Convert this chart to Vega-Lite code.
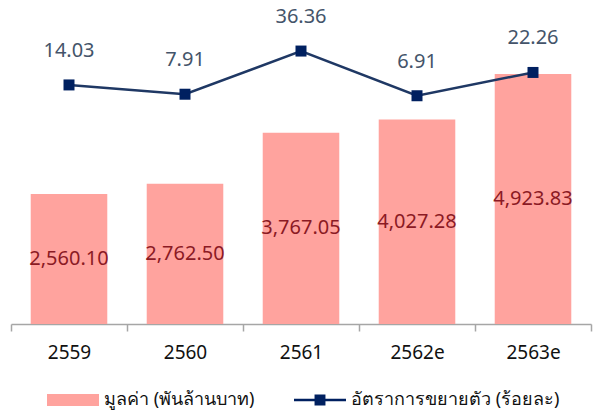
{
  "$schema": "https://vega.github.io/schema/vega-lite/v6.json",
  "width": 580,
  "height": 324,
  "autosize": {"type": "none"},
  "padding": {"left": 11, "top": 0, "right": 9, "bottom": 88},
  "config": {
    "view": {"stroke": null},
    "font": "Noto Sans",
    "text": {"font": "Noto Sans"}
  },
  "data": {
    "values": [
      {"year": "2559", "value": 2560.10, "growth": 14.03, "vlabel": "2,560.10", "glabel": "14.03"},
      {"year": "2560", "value": 2762.50, "growth": 7.91, "vlabel": "2,762.50", "glabel": "7.91"},
      {"year": "2561", "value": 3767.05, "growth": 36.36, "vlabel": "3,767.05", "glabel": "36.36"},
      {"year": "2562e", "value": 4027.28, "growth": 6.91, "vlabel": "4,027.28", "glabel": "6.91"},
      {"year": "2563e", "value": 4923.83, "growth": 22.26, "vlabel": "4,923.83", "glabel": "22.26"}
    ]
  },
  "encoding": {
    "x": {
      "field": "year",
      "type": "nominal",
      "sort": null,
      "scale": {"paddingInner": 0, "paddingOuter": 0},
      "axis": {
        "title": null,
        "labelAngle": 0,
        "tickBand": "extent",
        "domainColor": "#A6A6A6",
        "tickColor": "#A6A6A6",
        "domainWidth": 1.5,
        "tickWidth": 1.5,
        "tickSize": 7,
        "labelFontSize": 19,
        "labelColor": "#111111",
        "labelPadding": 12,
        "labelFont": "Noto Sans"
      }
    }
  },
  "layer": [
    {
      "mark": {"type": "bar", "width": {"band": 0.66}, "color": "#FFA39E"},
      "encoding": {
        "y": {"field": "value", "type": "quantitative", "scale": {"domain": [0, 6380], "nice": false}, "axis": null},
        "color": {
          "datum": "มูลค่า (พันล้านบาท)",
          "scale": {"domain": ["มูลค่า (พันล้านบาท)", "อัตราการขยายตัว (ร้อยละ)"], "range": ["#FFA39E", "#002060"]},
          "legend": {
            "title": null,
            "orient": "none",
            "direction": "horizontal",
            "legendX": 36,
            "legendY": 374,
            "padding": 0,
            "symbolSize": 2704,
            "symbolStrokeWidth": 0,
            "labelOffset": 5,
            "columnPadding": 39,
            "labelFontSize": 18,
            "labelColor": "#111111",
            "labelLimit": 400,
            "labelFont": "Noto Sans",
            "encode": {
              "symbols": {
                "update": {
                  "shape": {"signal": "datum.value === 'มูลค่า (พันล้านบาท)' ? 'M-1,-0.23H1V0.23H-1Z' : 'M-1,-0.05H1V0.05H-1ZM-0.21,-0.21H0.21V0.21H-0.21Z'"},
                  "strokeWidth": {"value": 0},
                  "opacity": {"value": 1}
                }
              }
            }
          }
        }
      }
    },
    {
      "mark": {"type": "text", "fontSize": 20, "color": "#8B1A24", "baseline": "middle"},
      "encoding": {
        "y": {"field": "value", "type": "quantitative", "scale": {"domain": [0, 12760], "nice": false}, "axis": null},
        "text": {"field": "vlabel"}
      }
    },
    {
      "mark": {"type": "line", "color": "#1F3864", "strokeWidth": 2.5},
      "encoding": {
        "y": {"field": "growth", "type": "quantitative", "scale": {"domain": [-143.5, 70], "nice": false, "zero": false}, "axis": null}
      }
    },
    {
      "mark": {"type": "point", "shape": "square", "filled": true, "size": 121, "color": "#002060", "opacity": 1},
      "encoding": {
        "y": {"field": "growth", "type": "quantitative", "scale": {"domain": [-143.5, 70], "nice": false, "zero": false}, "axis": null}
      }
    },
    {
      "mark": {"type": "text", "fontSize": 20, "color": "#44546A", "baseline": "middle", "dy": -34},
      "encoding": {
        "y": {"field": "growth", "type": "quantitative", "scale": {"domain": [-143.5, 70], "nice": false, "zero": false}, "axis": null},
        "text": {"field": "glabel"}
      }
    }
  ],
  "resolve": {"scale": {"y": "independent"}}
}
